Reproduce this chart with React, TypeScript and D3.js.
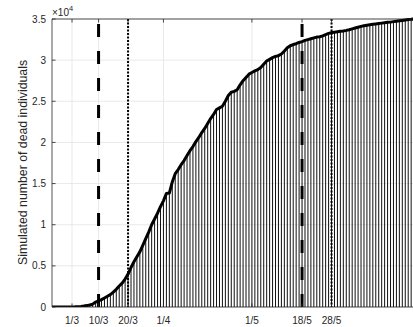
import * as d3 from "d3";
import React from "react";

// daily cumulative deaths starting 23 Feb 2020
const START_DATE = "2020-02-23";
const deaths = [
  0, 0, 0, 0, 0, 0, 0, 10,
  20, 40, 70, 110, 170, 250, 350, 600, 750,
  900, 1100, 1300, 1500, 1800, 2150, 2550, 2900, 3400, 4000,
  4800, 5500, 6100, 6700, 7500, 8300, 9100, 10000, 10700, 11400,
  12200, 12900, 13800, 13850, 15200, 16200, 16700, 17300, 17800, 18400,
  19000, 19500, 20100, 20600, 21200, 21700, 22300, 22900, 23400, 24000,
  24200, 24400, 25000, 25700, 26100, 26200, 26400, 27000, 27500, 27900,
  28300, 28500, 28700, 28850, 29100, 29500, 29900, 30100, 30300, 30450,
  30550, 30750, 31100, 31500, 31750, 31900, 32000, 32150, 32250, 32400,
  32500, 32600, 32700, 32800, 32850, 32950, 33100, 33250, 33350, 33400,
  33450, 33500, 33550, 33620, 33700, 33800, 33900, 34000, 34100, 34180,
  34250, 34300, 34350, 34400, 34450, 34500, 34550, 34600, 34620, 34680,
  34730, 34780, 34830, 34880, 34930, 34960, 35000,
];

const xTickDates = ["2020-03-01", "2020-03-10", "2020-03-20", "2020-04-01", "2020-05-01", "2020-05-18", "2020-05-28"];
const dashedDates = ["2020-03-10", "2020-05-18"];
const dottedDates = ["2020-03-20", "2020-05-28"];
const yTicks = [0, 5000, 10000, 15000, 20000, 25000, 30000, 35000];

const W = 413;
const H = 327;
const margin = { top: 19, right: -7, bottom: 20, left: 52 };

const parse = (s: string) => {
  const [y, m, d] = s.split("-").map(Number);
  return new Date(y, m - 1, d);
};

export default function App() {
  const x0 = margin.left;
  const x1 = W - margin.right;
  const y0 = H - margin.bottom;
  const y1 = margin.top;

  const start = parse(START_DATE);
  const dates = deaths.map((_, i) => d3.timeDay.offset(start, i));

  const x = d3
    .scaleTime()
    .domain([new Date(2020, 1, 23, 5), new Date(2020, 5, 27)])
    .range([x0, x1]);
  const y = d3.scaleLinear().domain([0, 35000]).range([y0, y1]);

  const line = d3
    .line<number>()
    .x((_, i) => x(dates[i]))
    .y((d) => y(d));

  const fmt = d3.timeFormat("%-d/%-m");
  const axisColor = "#262626";
  const gridColor = "#e3e3e3";
  const font = "'Liberation Sans', Arial, Helvetica, sans-serif";

  return (
    <svg
      width={W}
      height={H}
      style={{ position: "absolute", left: 0, top: 0, background: "#fff" }}
      fontFamily={font}
    >
      <defs>
        <clipPath id="plot">
          <rect x={x0} y={y1 - 3} width={x1 - x0} height={y0 - y1 + 3} />
        </clipPath>
      </defs>

      {/* grid */}
      {yTicks.map((t) => (
        <line key={"gy" + t} x1={x0} x2={x1} y1={y(t)} y2={y(t)} stroke={gridColor} strokeWidth={0.8} />
      ))}
      {xTickDates.map((s) => (
        <line key={"gx" + s} x1={x(parse(s))} x2={x(parse(s))} y1={y0} y2={y1} stroke={gridColor} strokeWidth={0.8} />
      ))}

      <g clipPath="url(#plot)">
        {/* daily bars */}
        {deaths.map((d, i) => (
          <rect
            key={"b" + i}
            x={x(dates[i]) - 0.5}
            y={y(d)}
            width={1}
            height={y0 - y(d)}
            fill="#111"
          />
        ))}

        {/* reference lines */}
        {dashedDates.map((s) => (
          <line
            key={"d" + s}
            x1={x(parse(s))}
            x2={x(parse(s))}
            y1={y(35000)}
            y2={y(0)}
            stroke="#000"
            strokeWidth={3}
            strokeDasharray="13,14"
            strokeDashoffset={22}
          />
        ))}
        {dottedDates.map((s) => (
          <line
            key={"o" + s}
            x1={x(parse(s))}
            x2={x(parse(s))}
            y1={y(35000)}
            y2={y(0)}
            stroke="#000"
            strokeWidth={2}
            strokeDasharray="2,1.5"
          />
        ))}

        {/* cumulative curve */}
        <path d={line(deaths) ?? ""} fill="none" stroke="#000" strokeWidth={3} strokeLinejoin="round" />
      </g>

      {/* axes box */}
      <line x1={x0} x2={x0} y1={y0} y2={y1} stroke={axisColor} strokeWidth={0.8} />
      <line x1={x0} x2={x1} y1={y0} y2={y0} stroke={axisColor} strokeWidth={0.8} />
      <line x1={x0} x2={x1} y1={y1} y2={y1} stroke={axisColor} strokeWidth={0.8} />

      {/* y ticks */}
      {yTicks.map((t) => (
        <g key={"yt" + t}>
          <line x1={x0} x2={x0 + 3.6} y1={y(t)} y2={y(t)} stroke={axisColor} strokeWidth={0.8} />
          <text x={46} y={y(t)} dy="0.35em" textAnchor="end" fontSize={10} fill={axisColor}>
            {t / 10000}
          </text>
        </g>
      ))}

      {/* x ticks */}
      {xTickDates.map((s) => {
        const px = x(parse(s));
        return (
          <g key={"xt" + s}>
            <line x1={px} x2={px} y1={y0} y2={y0 - 3.6} stroke={axisColor} strokeWidth={0.8} />
            <line x1={px} x2={px} y1={y1} y2={y1 + 3.6} stroke={axisColor} strokeWidth={0.8} />
            <text x={px} y={323.5} textAnchor="middle" fontSize={10} fill={axisColor}>
              {fmt(parse(s))}
            </text>
          </g>
        );
      })}

      {/* exponent */}
      <text x={52} y={16} fontSize={10} fill={axisColor}>
        ×10
        <tspan dy={-5} fontSize={7.5}>
          4
        </tspan>
      </text>

      {/* y label */}
      <text
        transform="translate(27,162.5) rotate(-90)"
        textAnchor="middle"
        fontSize={12.3}
        fill={axisColor}
      >
        Simulated number of dead individuals
      </text>
    </svg>
  );
}
